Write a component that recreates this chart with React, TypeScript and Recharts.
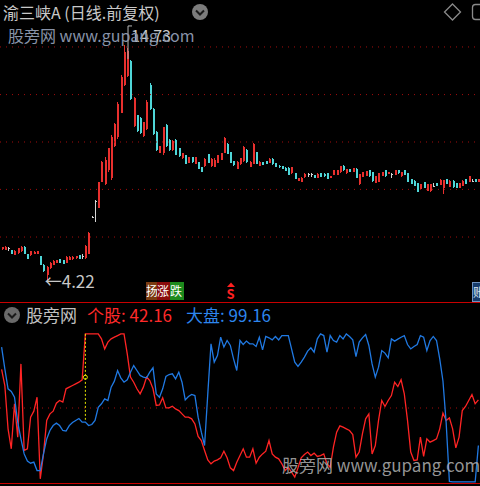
import { ComposedChart, Bar, Line, XAxis, YAxis, ReferenceLine, ReferenceDot } from "recharts";

// daily K-line, 149 sessions
const opens = [
  5.60, 5.56, 5.65, 5.56, 5.34, 5.42, 5.50, 5.71, 5.38, 5.33, 5.38, 5.39, 5.29, 4.90, 4.44, 4.74, 4.90, 4.98, 5.14, 5.11,
  5.00, 5.13, 5.14, 5.19, 5.33, 5.28, 5.20, 5.40, 7.05, 7.75, 7.44, 8.62, 8.50, 9.12, 8.80, 10.20, 10.60, 11.70, 12.95, 13.35,
  14.00, 11.10, 11.58, 11.48, 10.65, 10.95, 12.95, 11.85, 10.85, 9.90,
  9.90, 11.15, 10.50, 10.03, 10.50, 10.10, 9.66, 9.80, 9.45, 9.72, 9.40, 9.50, 9.28, 9.30, 9.85, 9.30, 9.27, 9.47, 9.60, 9.90,
  10.30, 9.92, 9.55, 9.20, 9.40, 9.55, 10.03, 9.27, 9.40, 9.92, 9.33, 9.48, 9.55, 9.44, 9.65, 9.46, 9.33, 9.30, 9.24, 9.24,
  8.99, 9.01, 8.66, 8.59, 8.81, 8.95, 8.94, 8.92, 8.77,
  9.01, 8.98, 9.01, 8.77, 8.92, 8.92, 9.03, 9.33, 8.99, 9.18, 9.04, 9.20, 8.50, 8.84, 8.89, 9.14, 9.06, 8.55, 8.59, 8.89,
  9.14, 8.95, 8.95, 8.92, 9.13, 8.85, 9.14, 8.99, 8.73, 8.66, 8.54, 8.28, 8.59, 8.22, 8.18, 8.42, 8.54, 8.46, 8.35, 8.72,
  8.39, 8.66, 8.54, 8.33, 8.44, 8.73, 8.59, 8.65, 8.72, 8.60,
];
const closes = [
  5.69, 5.71, 5.65, 5.38, 5.53, 5.63, 5.71, 5.38, 5.17, 5.51, 5.49, 5.50, 4.90, 4.60, 4.80, 4.99, 5.08, 5.11, 4.98, 4.94,
  5.26, 5.25, 5.26, 5.29, 5.17, 5.28, 5.76, 6.34, 7.05, 7.75, 8.60, 9.50, 9.60, 10.10, 10.60, 11.20, 12.10, 13.30, 14.40, 14.45,
  12.30, 12.35, 10.90, 10.80, 11.28, 12.20, 11.85, 10.75, 10.03, 10.20,
  11.05, 10.20, 10.05, 10.45, 9.82, 9.75, 9.88, 9.40, 9.72, 9.48, 9.72, 9.18, 9.05, 9.64, 9.45, 9.64, 9.60, 9.80, 9.90, 10.55,
  9.87, 9.45, 9.34, 9.50, 9.66, 10.15, 9.48, 9.50, 10.30, 9.40, 9.50, 9.38, 9.42, 9.64, 9.40, 9.27, 9.25, 9.20, 9.10, 8.92,
  9.27, 8.73, 8.78, 8.80, 8.98, 8.95, 8.94, 8.77, 8.98,
  8.84, 8.85, 8.73, 8.88, 9.12, 9.13, 9.31, 9.12, 9.17, 9.04, 9.21, 8.78, 8.95, 9.06, 9.10, 8.85, 8.63, 8.87, 9.01, 9.06,
  8.85, 9.06, 8.95, 9.13, 8.99, 9.06, 8.91, 8.60, 8.52, 8.44, 8.17, 8.51, 8.33, 8.51, 8.50, 8.42, 8.42, 8.70, 8.69, 8.51,
  8.66, 8.37, 8.33, 8.54, 8.66, 8.51, 8.87, 8.65, 8.60, 8.72,
];
const highs = [
  5.71, 5.73, 5.71, 5.58, 5.55, 5.65, 5.73, 5.73, 5.40, 5.53, 5.51, 5.51, 5.31, 4.92, 4.85, 5.01, 5.10, 5.13, 5.16, 5.13,
  5.28, 5.27, 5.28, 5.31, 5.35, 5.37, 5.80, 6.38, 7.06, 7.80, 8.62, 9.52, 9.70, 10.11, 10.70, 11.23, 12.19, 13.39, 14.73, 14.60,
  14.04, 12.42, 11.60, 11.50, 11.30, 12.27, 13.01, 11.90, 10.90, 10.22,
  11.07, 11.20, 10.51, 10.46, 10.51, 10.11, 9.89, 9.81, 9.73, 9.73, 9.73, 9.51, 9.29, 9.66, 9.86, 9.66, 9.66, 9.81, 9.91, 10.60,
  10.33, 9.93, 9.56, 9.52, 9.67, 10.21, 10.06, 9.52, 10.33, 9.93, 9.52, 9.49, 9.56, 9.66, 9.66, 9.47, 9.34, 9.31, 9.25, 9.25,
  9.28, 9.02, 8.79, 8.81, 8.99, 8.99, 8.99, 8.93, 8.99,
  9.02, 8.99, 9.02, 8.89, 9.14, 9.14, 9.33, 9.34, 9.18, 9.19, 9.22, 9.21, 8.96, 9.07, 9.11, 9.15, 9.07, 8.88, 9.02, 9.07,
  9.15, 9.07, 9.01, 9.14, 9.14, 9.07, 9.15, 9.00, 8.74, 8.67, 8.55, 8.52, 8.60, 8.52, 8.51, 8.54, 8.55, 8.72, 8.70, 8.73,
  8.67, 8.67, 8.55, 8.55, 8.67, 8.74, 8.88, 8.73, 8.73, 8.73,
];
const lows = [
  5.58, 5.54, 5.50, 5.36, 5.32, 5.40, 5.48, 5.36, 5.15, 5.31, 5.36, 5.37, 4.88, 4.56, 4.22, 4.72, 4.88, 4.96, 4.96, 4.92,
  4.98, 5.11, 5.12, 5.17, 5.15, 5.17, 5.17, 5.38, 7.04, 6.83, 7.42, 8.60, 8.45, 9.06, 8.69, 10.18, 10.51, 11.67, 12.90, 13.30,
  12.27, 11.07, 10.85, 10.75, 10.63, 10.93, 11.82, 10.70, 10.00, 9.88,
  9.81, 10.18, 10.00, 10.00, 9.81, 9.73, 9.65, 9.39, 9.44, 9.46, 9.39, 9.17, 9.03, 9.29, 9.43, 9.28, 9.25, 9.46, 9.58, 9.88,
  9.85, 9.44, 9.32, 9.19, 9.38, 9.51, 9.44, 9.25, 9.39, 9.39, 9.32, 9.37, 9.41, 9.43, 9.38, 9.25, 9.24, 9.19, 9.09, 8.91,
  8.98, 8.72, 8.65, 8.58, 8.80, 8.84, 8.84, 8.76, 8.76,
  8.83, 8.84, 8.72, 8.76, 8.91, 8.91, 9.02, 9.11, 8.98, 9.03, 9.03, 8.76, 8.47, 8.83, 8.88, 8.84, 8.61, 8.54, 8.58, 8.88,
  8.84, 8.94, 8.76, 8.91, 8.98, 8.84, 8.90, 8.59, 8.51, 8.43, 8.16, 8.27, 8.32, 8.21, 8.16, 8.39, 8.41, 8.45, 8.06, 8.50,
  8.38, 8.35, 8.32, 8.32, 8.43, 8.50, 8.58, 8.59, 8.59, 8.59,
];

// indicator lines (0-100)
const stockLine = [
  75.7, 65.0, 36.1, 22.8, 52.8, 30.6, 79.4, 21.7, 22.8, 43.9, 47.9, 57.2, 2.8, 19.4, 41.7, 46.1, 47.9, 53.2, 55.0, 53.9,
  62.8, 63.9, 65.0, 66.1, 67.2, 68.8, 99.4, 99.4, 99.4, 99.4, 99.4, 96.1, 89.4, 93.9, 96.1, 97.2, 98.3, 99.4, 99.4, 86.1,
  70.6, 67.2, 62.8, 59.4, 63.9, 70.6, 68.3, 62.8, 51.7,
  52.0, 56.8, 50.1, 50.1, 51.2, 49.4, 48.3, 46.1, 43.9, 43.9, 42.8, 39.4, 31.0, 28.3, 21.7, 15.4, 12.8, 14.6, 15.4, 16.8,
  21.2, 16.8, 10.1, 8.3, 13.9, 18.3, 22.8, 17.2, 17.2, 22.8, 13.2, 17.2, 19.4, 21.2, 28.3, 19.4, 17.2, 16.1, 12.8, 8.3,
  10.5, 7.2, 3.9, 10.1, 16.8, 19.0, 20.6, 18.3, 19.9, 17.7,
  18.3, 19.4, 12.8, 10.5, 23.9, 33.9, 38.1, 37.2, 36.1, 35.0, 32.3, 17.2, 20.6, 32.8, 42.8, 46.1, 19.4, 25.0, 41.7, 55.0,
  51.0, 55.0, 58.3, 67.2, 64.3, 68.8, 59.4, 41.7, 20.6, 15.0, 15.4, 30.6, 17.7, 29.4, 27.2, 28.3, 29.4, 36.1, 46.6, 41.7,
  43.4, 36.1, 23.4, 30.6, 48.3, 51.0, 55.0, 59.0, 52.8, 55.4,
];
const marketLine = [
  90.6, 76.1, 62.8, 61.0, 57.2, 40.6, 29.4, 19.4, 14.6, 13.2, 13.9, 8.3, 8.3, 19.4, 29.4, 35.0, 38.3, 39.9, 38.3, 35.0,
  34.6, 38.3, 40.3, 41.7, 43.0, 40.6, 40.6, 38.3, 39.0, 41.7, 50.5, 52.8, 56.1, 55.0, 63.9, 67.9, 75.0, 70.1, 67.2, 68.8,
  73.9, 78.3, 75.0, 71.7, 70.6, 70.1, 73.9, 76.8, 59.4,
  57.2, 62.8, 71.0, 72.3, 72.8, 69.4, 73.9, 67.2, 55.4, 57.7, 59.0, 58.3, 43.9, 33.9, 25.0, 59.4, 92.8, 80.6, 85.0, 97.2,
  90.6, 95.0, 91.7, 82.8, 75.0, 95.0, 92.3, 94.6, 92.8, 92.8, 91.0, 97.2, 88.8, 97.7, 96.8, 95.4, 97.7, 95.4, 98.3, 98.3,
  98.3, 89.4, 80.6, 77.7, 80.6, 83.9, 87.9, 90.1, 87.2, 96.1,
  99.4, 98.3, 87.2, 98.3, 95.0, 93.9, 98.3, 96.1, 99.4, 97.7, 95.4, 84.3, 93.9, 96.8, 99.0, 91.7, 79.4, 70.6, 77.2, 88.3,
  86.6, 83.4, 96.1, 94.6, 95.9, 97.2, 98.3, 92.3, 89.4, 91.0, 92.3, 98.3, 97.2, 88.3, 95.0, 97.7, 95.0, 82.8, 68.0, 40.0,
  1.0, 0.8, 0.8, 0.8, 0.8, 0.8, 0.8, 0.8, 0.8, 25.0,
];

const priceGrid = [14.64, 12.51, 10.39, 8.27, 6.14];
const priceDomain = [3.234, 16.74];
const highIdx = 38;
const highPrice = 14.73;
const lowIdx = 14;
const lowPrice = 4.22;
const cursorIdx = 26;
const cursorTop = 99.4;
const cursorBottom = 42.16;
const cursorMark = 70.5;
const stockReadout = "42.16";
const marketReadout = "99.16";

const RED = "#e8302e";
const CYAN = "#4fd6d8";
const WHITE = "#d4d4d4";
const GRID = "#a30d0d";

const candles = opens.map((o, i) => ({ i, open: o, close: closes[i], high: highs[i], low: lows[i] }));
const lines = stockLine.map((v, i) => ({ i, stock: v, market: marketLine[i] }));

function Candle(props: any) {
  const { x, y, width, height, payload } = props;
  const { open, close, high, low } = payload;
  const span = high - low;
  const py = (v: number) => (span > 0 ? y + ((high - v) / span) * height : y);
  const cx = Math.round(x + width / 2);
  const color = close > open ? RED : close < open ? CYAN : WHITE;
  const top = py(Math.max(open, close));
  const bot = py(Math.min(open, close));
  return (
    <g shapeRendering="crispEdges">
      <line x1={cx + 0.5} x2={cx + 0.5} y1={y} y2={y + Math.max(height, 1)} stroke={color} strokeWidth={1} />
      <rect x={cx - 0.5} y={top} width={2} height={Math.max(bot - top, 1)} fill={color} />
    </g>
  );
}

function Chevron({ cx, cy, fill }: { cx: number; cy: number; fill: string }) {
  return (
    <svg style={{ position: "absolute", left: cx - 9, top: cy - 9 }} width={18} height={18}>
      <circle cx={9} cy={9} r={8} fill={fill} />
      <path d="M5 7.5 L9 11.5 L13 7.5" stroke="#1a1a1a" strokeWidth={2} fill="none" />
    </svg>
  );
}

const txt = (left: number, top: number, color: string, size = 16): React.CSSProperties => ({
  position: "absolute",
  left,
  top,
  color,
  fontSize: size,
  lineHeight: "20px",
  whiteSpace: "nowrap",
});

export default function App() {
  return (
    <div
      style={{
        position: "fixed",
        left: 0,
        top: 0,
        width: 480,
        height: 486,
        background: "#000",
        overflow: "hidden",
        fontFamily: '"Noto Sans CJK SC", "Noto Sans", sans-serif',
      }}
    >
      <div style={{ position: "absolute", left: 0, top: 0 }}>
        <ComposedChart width={480} height={302} data={candles} margin={{ top: 0, right: 0, bottom: 0, left: 0 }} barCategoryGap={0}>
          <XAxis dataKey="i" hide scale="band" />
          <YAxis hide domain={priceDomain} allowDataOverflow type="number" />
          {priceGrid.map((p) => (
            <ReferenceLine key={p} y={p} stroke={GRID} strokeDasharray="1 5" />
          ))}
          <Bar dataKey={(d: any) => [d.low, d.high]} shape={<Candle />} isAnimationActive={false} />
          <ReferenceDot
            x={highIdx}
            y={highPrice}
            r={0}
            ifOverflow="visible"
            shape={(p: any) => (
              <g>
                <path d={`M${p.cx + 4} ${p.cy + 14} V${p.cy - 19} H${p.cx + 8}`} stroke="#b8b8b8" fill="none" />
                <text x={p.cx + 7} y={p.cy - 3} fill="#c8c8c8" fontSize={16}>
                  {highPrice.toFixed(2)}
                </text>
              </g>
            )}
          />
          <ReferenceDot
            x={lowIdx}
            y={lowPrice}
            r={0}
            ifOverflow="visible"
            shape={(p: any) => (
              <text x={p.cx - 2} y={p.cy + 8} fill="#c8c8c8" fontSize={17}>
                {"←" + lowPrice.toFixed(2)}
              </text>
            )}
          />
        </ComposedChart>
      </div>

      <div style={{ position: "absolute", left: 0, top: 302, width: 480, height: 1, background: "#c80000" }} />
      <div style={{ position: "absolute", left: 0, top: 483, width: 480, height: 1, background: "#c80000" }} />

      <div style={{ position: "absolute", left: 0, top: 303 }}>
        <ComposedChart width={480} height={180} data={lines} margin={{ top: 30, right: 0, bottom: 0, left: 0 }}>
          <XAxis dataKey="i" hide scale="band" />
          <YAxis hide domain={[0, 100]} allowDataOverflow type="number" />
          <ReferenceLine y={50} stroke={GRID} strokeDasharray="1 5" />
          <Line dataKey="stock" stroke="#ff2424" strokeWidth={1.3} dot={false} isAnimationActive={false} />
          <Line dataKey="market" stroke="#2079e2" strokeWidth={1.3} dot={false} isAnimationActive={false} />
          <ReferenceLine
            segment={[
              { x: cursorIdx, y: cursorTop },
              { x: cursorIdx, y: cursorBottom },
            ]}
            stroke="#e6e600"
            strokeDasharray="2 2"
            ifOverflow="visible"
          />
          <ReferenceDot x={cursorIdx} y={cursorMark} r={2} fill="none" stroke="#e6e600" ifOverflow="visible" />
        </ComposedChart>
      </div>

      {/* top header */}
      <div style={txt(3, 2, "#c8c8c8")}>渝三峡A (日线.前复权)</div>
      <Chevron cx={200} cy={12} fill="#7c7c7c" />
      <div style={txt(8, 25, "#8893a8")}>股旁网 www.gupang.com</div>
      <svg style={{ position: "absolute", left: 440, top: 0 }} width={40} height={26}>
        <path d="M12.5 4 L20.5 12 L12.5 20 L4.5 12 Z" stroke="#8a8a8a" strokeWidth={1.3} fill="none" />
        <rect x={32.5} y={4.5} width={14} height={15} rx={3} stroke="#8a8a8a" strokeWidth={1.3} fill="none" />
      </svg>

      {/* event markers */}
      <div style={{ position: "absolute", left: 146, top: 282, display: "flex", height: 18 }}>
        <span style={{ background: "#7a3a10", color: "#fff", fontSize: 12, lineHeight: "18px", width: 11, overflow: "hidden" }}>扬</span>
        <span style={{ background: "#8a0c0c", color: "#fff", fontSize: 12, lineHeight: "18px", width: 13, overflow: "hidden" }}>涨</span>
        <span style={{ background: "#1c8a1c", color: "#fff", fontSize: 12, lineHeight: "18px", width: 14, overflow: "hidden" }}>跌</span>
      </div>
      <svg style={{ position: "absolute", left: 224, top: 281 }} width={14} height={21}>
        <path d="M3 6 L7 1.5 L11 6 Z" fill="#ff2020" />
        <text x={2.5} y={18} fill="#ff2020" fontSize={13} fontWeight="bold">S</text>
      </svg>
      <div
        style={{
          position: "absolute",
          left: 472,
          top: 282,
          width: 14,
          height: 18,
          background: "#163c6c",
          border: "1px solid #6f93c0",
          color: "#dfe8f5",
          fontSize: 12,
          lineHeight: "18px",
          overflow: "hidden",
        }}
      >
        账
      </div>

      {/* indicator header */}
      <Chevron cx={12} cy={315} fill="#6a6a6a" />
      <div style={txt(26, 305, "#c0c0c0", 17)}>股旁网</div>
      <div style={txt(87, 305, "#ff2a2a", 17)}>个股: {stockReadout}</div>
      <div style={txt(186, 305, "#2d86ee", 17)}>大盘: {marketReadout}</div>
      <div style={txt(282, 455, "rgba(168,168,168,0.9)", 17)}>股旁网 www.gupang.com</div>
    </div>
  );
}
